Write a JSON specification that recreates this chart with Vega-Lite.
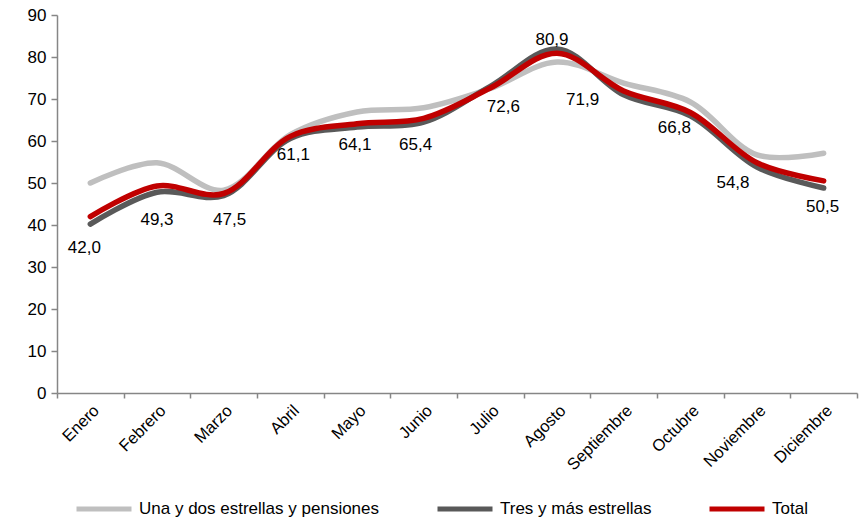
{
  "$schema": "https://vega.github.io/schema/vega-lite/v6.json",
  "width": 800,
  "height": 378,
  "autosize": {"type": "none"},
  "padding": {"left": 57, "top": 15, "right": 5, "bottom": 130},
  "background": "white",
  "config": {
    "view": {"stroke": null},
    "font": "Liberation Sans",
    "locale": {"number": {"decimal": ",", "thousands": ".", "grouping": [3], "currency": ["", " €"]}},
    "axis": {"labelFont": "Liberation Sans", "labelColor": "#000000", "labelFontSize": 17, "domainColor": "#868686", "tickColor": "#868686", "domainWidth": 1.5, "tickWidth": 1.5, "grid": false, "title": null}
  },
  "data": {"values": [
    {"mes": "Enero", "serie": "Una y dos estrellas y pensiones", "valor": 50.0},
    {"mes": "Febrero", "serie": "Una y dos estrellas y pensiones", "valor": 54.8},
    {"mes": "Marzo", "serie": "Una y dos estrellas y pensiones", "valor": 48.3},
    {"mes": "Abril", "serie": "Una y dos estrellas y pensiones", "valor": 61.5},
    {"mes": "Mayo", "serie": "Una y dos estrellas y pensiones", "valor": 66.9},
    {"mes": "Junio", "serie": "Una y dos estrellas y pensiones", "valor": 67.9},
    {"mes": "Julio", "serie": "Una y dos estrellas y pensiones", "valor": 72.5},
    {"mes": "Agosto", "serie": "Una y dos estrellas y pensiones", "valor": 78.8},
    {"mes": "Septiembre", "serie": "Una y dos estrellas y pensiones", "valor": 73.8},
    {"mes": "Octubre", "serie": "Una y dos estrellas y pensiones", "valor": 69.3},
    {"mes": "Noviembre", "serie": "Una y dos estrellas y pensiones", "valor": 56.7},
    {"mes": "Diciembre", "serie": "Una y dos estrellas y pensiones", "valor": 57.1},
    {"mes": "Enero", "serie": "Tres y más estrellas", "valor": 40.2},
    {"mes": "Febrero", "serie": "Tres y más estrellas", "valor": 47.8},
    {"mes": "Marzo", "serie": "Tres y más estrellas", "valor": 47.0},
    {"mes": "Abril", "serie": "Tres y más estrellas", "valor": 60.6},
    {"mes": "Mayo", "serie": "Tres y más estrellas", "valor": 63.3},
    {"mes": "Junio", "serie": "Tres y más estrellas", "valor": 64.5},
    {"mes": "Julio", "serie": "Tres y más estrellas", "valor": 73.0},
    {"mes": "Agosto", "serie": "Tres y más estrellas", "valor": 81.9},
    {"mes": "Septiembre", "serie": "Tres y más estrellas", "valor": 71.0},
    {"mes": "Octubre", "serie": "Tres y más estrellas", "valor": 66.0},
    {"mes": "Noviembre", "serie": "Tres y más estrellas", "valor": 53.8},
    {"mes": "Diciembre", "serie": "Tres y más estrellas", "valor": 48.8},
    {"mes": "Enero", "serie": "Total", "valor": 42.0},
    {"mes": "Febrero", "serie": "Total", "valor": 49.3},
    {"mes": "Marzo", "serie": "Total", "valor": 47.5},
    {"mes": "Abril", "serie": "Total", "valor": 61.1},
    {"mes": "Mayo", "serie": "Total", "valor": 64.1},
    {"mes": "Junio", "serie": "Total", "valor": 65.4},
    {"mes": "Julio", "serie": "Total", "valor": 72.6},
    {"mes": "Agosto", "serie": "Total", "valor": 80.9},
    {"mes": "Septiembre", "serie": "Total", "valor": 71.9},
    {"mes": "Octubre", "serie": "Total", "valor": 66.8},
    {"mes": "Noviembre", "serie": "Total", "valor": 54.8},
    {"mes": "Diciembre", "serie": "Total", "valor": 50.5}
  ]},
  "encoding": {
    "x": {"field": "mes", "type": "nominal", "sort": null,
      "scale": {"type": "band", "paddingInner": 0, "paddingOuter": 0},
      "axis": {"labelAngle": -45, "tickBand": "extent", "tickSize": 5, "labelFontSize": 16.5, "labelPadding": 4}},
    "y": {"field": "valor", "type": "quantitative",
      "scale": {"domain": [0, 90], "nice": false, "zero": true},
      "axis": {"values": [0, 10, 20, 30, 40, 50, 60, 70, 80, 90], "tickSize": 6, "labelPadding": 5}}
  },
  "layer": [
    {
      "mark": {"type": "line", "interpolate": "catmull-rom", "strokeWidth": 5.5, "strokeCap": "round"},
      "encoding": {
        "color": {"field": "serie", "type": "nominal",
          "scale": {"domain": ["Una y dos estrellas y pensiones", "Tres y más estrellas", "Total"], "range": ["#bfbfbf", "#595959", "#c00000"]},
          "legend": {"orient": "none", "legendX": 17, "legendY": 464, "direction": "horizontal", "title": null,
            "symbolType": "stroke", "symbolSize": 3025, "symbolStrokeWidth": 5, "labelFontSize": 17, "labelColor": "#000000",
            "labelFont": "Liberation Sans", "labelLimit": 400, "columnPadding": 47, "labelOffset": 5}}
      }
    },
    {"transform": [{"filter": "datum.serie == 'Total' && datum.mes == 'Enero'"}], "mark": {"type": "text", "fontSize": 17, "dx": -6, "dy": 31}, "encoding": {"text": {"field": "valor", "type": "quantitative", "format": ".1f"}}},
    {"transform": [{"filter": "datum.serie == 'Total' && datum.mes == 'Febrero'"}], "mark": {"type": "text", "fontSize": 17, "dx": 0, "dy": 34}, "encoding": {"text": {"field": "valor", "type": "quantitative", "format": ".1f"}}},
    {"transform": [{"filter": "datum.serie == 'Total' && datum.mes == 'Marzo'"}], "mark": {"type": "text", "fontSize": 17, "dx": 6, "dy": 26}, "encoding": {"text": {"field": "valor", "type": "quantitative", "format": ".1f"}}},
    {"transform": [{"filter": "datum.serie == 'Total' && datum.mes == 'Abril'"}], "mark": {"type": "text", "fontSize": 17, "dx": 3, "dy": 19}, "encoding": {"text": {"field": "valor", "type": "quantitative", "format": ".1f"}}},
    {"transform": [{"filter": "datum.serie == 'Total' && datum.mes == 'Mayo'"}], "mark": {"type": "text", "fontSize": 17, "dx": -2, "dy": 21}, "encoding": {"text": {"field": "valor", "type": "quantitative", "format": ".1f"}}},
    {"transform": [{"filter": "datum.serie == 'Total' && datum.mes == 'Junio'"}], "mark": {"type": "text", "fontSize": 17, "dx": -8, "dy": 27}, "encoding": {"text": {"field": "valor", "type": "quantitative", "format": ".1f"}}},
    {"transform": [{"filter": "datum.serie == 'Total' && datum.mes == 'Julio'"}], "mark": {"type": "text", "fontSize": 17, "dx": 13, "dy": 19}, "encoding": {"text": {"field": "valor", "type": "quantitative", "format": ".1f"}}},
    {"transform": [{"filter": "datum.serie == 'Total' && datum.mes == 'Agosto'"}], "mark": {"type": "text", "fontSize": 17, "dx": -5, "dy": -13}, "encoding": {"text": {"field": "valor", "type": "quantitative", "format": ".1f"}}},
    {"transform": [{"filter": "datum.serie == 'Total' && datum.mes == 'Septiembre'"}], "mark": {"type": "text", "fontSize": 17, "dx": -41, "dy": 9}, "encoding": {"text": {"field": "valor", "type": "quantitative", "format": ".1f"}}},
    {"transform": [{"filter": "datum.serie == 'Total' && datum.mes == 'Octubre'"}], "mark": {"type": "text", "fontSize": 17, "dx": -16, "dy": 16}, "encoding": {"text": {"field": "valor", "type": "quantitative", "format": ".1f"}}},
    {"transform": [{"filter": "datum.serie == 'Total' && datum.mes == 'Noviembre'"}], "mark": {"type": "text", "fontSize": 17, "dx": -24, "dy": 20}, "encoding": {"text": {"field": "valor", "type": "quantitative", "format": ".1f"}}},
    {"transform": [{"filter": "datum.serie == 'Total' && datum.mes == 'Diciembre'"}], "mark": {"type": "text", "fontSize": 17, "dx": -1, "dy": 26}, "encoding": {"text": {"field": "valor", "type": "quantitative", "format": ".1f"}}}
  ]
}
